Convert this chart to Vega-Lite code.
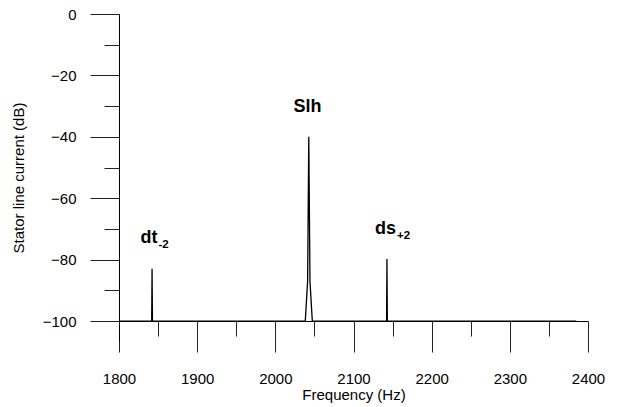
{
  "$schema": "https://vega.github.io/schema/vega-lite/v6.json",
  "width": 469,
  "height": 327,
  "autosize": {"type": "none"},
  "padding": {"left": 119, "top": 14, "right": 33, "bottom": 66},
  "background": "white",
  "config": {
    "view": {"stroke": null},
    "font": "Liberation Sans",
    "axis": {"grid": false, "labelFont": "Liberation Sans", "titleFont": "Liberation Sans", "labelColor": "black", "titleColor": "black", "labelFontSize": 15, "titleFontSize": 15, "titleFontWeight": "normal", "domainColor": "black", "tickColor": "#222", "tickWidth": 1, "domainWidth": 1, "format": "d"}
  },
  "datasets": {
    "spectrum": [
      {"f": 1800, "db": -100},
      {"f": 1841.8, "db": -100},
      {"f": 1842.3, "db": -83},
      {"f": 1842.8, "db": -100},
      {"f": 2038.3, "db": -100},
      {"f": 2041.3, "db": -87},
      {"f": 2042.8, "db": -40},
      {"f": 2044.3, "db": -87},
      {"f": 2047.3, "db": -100},
      {"f": 2142.3, "db": -100},
      {"f": 2142.8, "db": -79.8},
      {"f": 2143.3, "db": -100},
      {"f": 2385, "db": -100}
    ],
    "labels": [
      {"f": 1849.3, "db": -74.6, "label": "dt", "sub": "-2"},
      {"f": 2059, "db": -32, "label": "Slh", "sub": ""},
      {"f": 2154.5, "db": -71.7, "label": "ds", "sub": "+2"}
    ]
  },
  "resolve": {"axis": {"x": "independent", "y": "independent"}},
  "layer": [
    {
      "data": {"name": "spectrum"},
      "mark": {"type": "line", "color": "black", "strokeWidth": 1.3, "clip": true},
      "encoding": {
        "x": {"field": "f", "type": "quantitative", "scale": {"domain": [1800, 2400], "nice": false, "zero": false},
          "axis": {"orient": "bottom", "offset": -20, "values": [1800, 1900, 2000, 2100, 2200, 2300, 2400], "tickSize": 31, "labelPadding": 19, "title": "Frequency (Hz)", "titlePadding": 1.5, "labelFlush": false}},
        "y": {"field": "db", "type": "quantitative", "scale": {"domain": [-106.5, 0], "nice": false, "zero": false},
          "axis": {"orient": "left", "values": [0, -20, -40, -60, -80, -100], "tickSize": 29, "labelPadding": 14, "title": "Stator line current (dB)", "titlePadding": 16}}
      }
    },
    {
      "data": {"name": "labels"},
      "mark": {"type": "text", "align": "right", "baseline": "alphabetic", "fontSize": 18, "fontWeight": "bold", "font": "Liberation Sans", "color": "black"},
      "encoding": {
        "x": {"field": "f", "type": "quantitative",
          "axis": {"orient": "bottom", "offset": -20, "values": [1850, 1950, 2050, 2150, 2250, 2350], "tickSize": 15, "labels": false, "domain": false, "title": null}},
        "y": {"field": "db", "type": "quantitative",
          "axis": {"orient": "left", "values": [-10, -30, -50, -70, -90], "tickSize": 15, "labels": false, "domain": false, "title": null}},
        "text": {"field": "label"}
      }
    },
    {
      "data": {"name": "labels"},
      "mark": {"type": "text", "align": "left", "baseline": "alphabetic", "fontSize": 11.5, "fontWeight": "bold", "font": "Liberation Sans", "color": "black", "dx": 1, "dy": 5},
      "encoding": {
        "x": {"field": "f", "type": "quantitative", "axis": null},
        "y": {"field": "db", "type": "quantitative", "axis": null},
        "text": {"field": "sub"}
      }
    }
  ]
}
